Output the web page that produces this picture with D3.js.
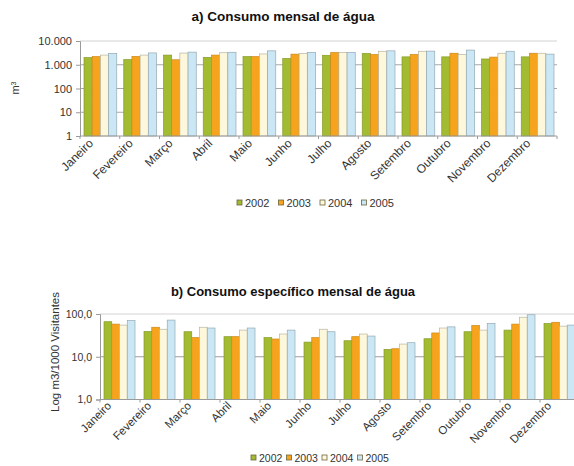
<!DOCTYPE html>
<html>
<head>
<meta charset="utf-8">
<script src="https://cdn.jsdelivr.net/npm/d3@7"></script>
<style>
  html, body { margin: 0; padding: 0; background: #fff; }
  svg { display: block; font-family: "Liberation Sans", Arial, sans-serif; }
</style>
</head>
<body>
<svg id="chart" width="574" height="466"></svg>
<script>
// Months and years
const months = ["Janeiro","Fevereiro","Março","Abril","Maio","Junho","Julho","Agosto","Setembro","Outubro","Novembro","Dezembro"];
const years = ["2002","2003","2004","2005"];

// a) Monthly water consumption (m³)
const consumo2002 = [2000,1650,2550,2050,2200,1850,2500,3000,2150,2150,1750,2150];
const consumo2003 = [2200,2250,1620,2550,2200,2800,3250,2700,2700,3050,2100,3050];
const consumo2004 = [2550,2550,3100,3200,2850,3000,3250,3700,3700,2700,3050,3050];
const consumo2005 = [2950,3150,3400,3350,3850,3300,3250,3850,3750,4150,3700,2800];
const consumoTicks = [1,10,100,1000,10000];

// b) Specific monthly water consumption (m³ per 1000 visitors)
const esp2002 = [66,39,38.5,29.5,28,22,23.7,14.9,26.4,38.5,42,60];
const esp2003 = [58,49,28,29.5,26,28,29.5,15.4,36,54,58,64];
const esp2004 = [55,44,49,42,34,44,34,19.8,47,42,84,52];
const esp2005 = [70,72,47,47,42,38.5,30.5,21.3,50,60,96,55];
const espTicks = [1,10,100];

const colors = ["#a2bb30","#f6a41d","#fdf8dc","#cbe7f5"];

const pt = d3.formatLocale({decimal: ",", thousands: ".", grouping: [3], currency: ["", ""]});

const svg = d3.select("#chart");

function drawChart(cfg) {
  const g = svg.append("g");
  const series = cfg.series;
  const x0 = d3.scaleBand().domain(months).range([cfg.left, cfg.right]).paddingInner(0).paddingOuter(0);
  const x1 = d3.scaleBand().domain(years).range([cfg.barPadL, x0.bandwidth() - cfg.barPadR]);
  const y = d3.scaleLog().domain(cfg.domain).range([cfg.bottom, cfg.top]);

  // gridlines
  g.append("g").selectAll("line").data(cfg.ticks.filter(t => t !== cfg.domain[0]))
    .join("line")
    .attr("x1", cfg.left).attr("x2", Math.min(cfg.right, 574))
    .attr("y1", d => y(d)).attr("y2", d => y(d))
    .attr("stroke", d => d === cfg.domain[1] ? "#d4d4d4" : cfg.gridColor)
    .attr("stroke-width", d => d === cfg.domain[1] ? 1.2 : cfg.gridWidth);

  // bars
  const groups = g.append("g").selectAll("g").data(months).join("g")
    .attr("transform", m => `translate(${x0(m)},0)`);
  groups.selectAll("rect")
    .data((m, i) => years.map((yr, k) => ({yr, k, v: series[k][i]})))
    .join("rect")
    .attr("x", d => x1(d.yr))
    .attr("width", x1.bandwidth())
    .attr("y", d => y(d.v))
    .attr("height", d => cfg.bottom - y(d.v))
    .attr("fill", d => colors[d.k])
    .attr("stroke", d => d3.color(colors[d.k]).darker(d.k >= 2 ? 0.9 : 0.5))
    .attr("stroke-width", 0.7);

  // left axis
  const yAxis = d3.axisLeft(y).tickValues(cfg.ticks).tickFormat(cfg.fmt).tickSize(4).tickPadding(4);
  const ya = g.append("g").attr("transform", `translate(${cfg.left},0)`).call(yAxis);
  ya.select(".domain").attr("stroke", "#9a9a9a");
  ya.selectAll(".tick line").attr("stroke", "#9a9a9a");
  ya.selectAll(".tick text").attr("fill", "#333").style("font-size", cfg.tickFont + "px")
    .style("font-family", "'Liberation Sans', Arial, sans-serif");

  // bottom axis line with ticks at category boundaries
  const xa = g.append("g");
  xa.append("line").attr("x1", cfg.left).attr("x2", Math.min(cfg.right, 574))
    .attr("y1", cfg.bottom).attr("y2", cfg.bottom).attr("stroke", "#9a9a9a");
  xa.selectAll("line.b").data(months.map(m => x0(m)).concat([cfg.right]))
    .join("line").attr("class", "b")
    .attr("x1", d => d).attr("x2", d => d)
    .attr("y1", cfg.bottom).attr("y2", cfg.bottom + 3).attr("stroke", "#9a9a9a");

  // rotated month labels
  xa.selectAll("text").data(months).join("text")
    .attr("transform", m => `translate(${x0(m) + x0.bandwidth() / 2 + cfg.labelDx},${cfg.bottom + cfg.labelDy}) rotate(-45)`)
    .attr("text-anchor", "end")
    .attr("fill", "#333")
    .style("font-size", cfg.labelFont + "px")
    .text(m => m);

  // title
  g.append("text").attr("x", cfg.titleX).attr("y", cfg.titleY)
    .attr("text-anchor", "middle").attr("font-weight", "bold")
    .style("font-size", cfg.titleFont + "px").attr("fill", "#111")
    .text(cfg.title);

  // legend
  const lg = g.append("g").attr("transform", `translate(${cfg.legendX},${cfg.legendY})`);
  const item = lg.selectAll("g").data(years).join("g")
    .attr("transform", (d, i) => `translate(${i * cfg.legendStep},0)`);
  item.append("rect").attr("x", 0).attr("y", -3).attr("width", 5).attr("height", 5)
    .attr("fill", (d, i) => colors[i]).attr("stroke", "#6d6440").attr("stroke-width", 0.8);
  item.append("text").attr("x", 8).attr("y", 0).attr("dy", "0.35em")
    .attr("fill", "#333").style("font-size", cfg.legendFont + "px").text(d => d);

  return g;
}

drawChart({
  series: [consumo2002, consumo2003, consumo2004, consumo2005],
  left: 80, right: 557, top: 41, bottom: 136,
  barPadL: 4, barPadR: 3,
  domain: [1, 10000], ticks: consumoTicks, fmt: pt.format(","),
  gridColor: "#a8a8a8", gridWidth: 1,
  tickFont: 11, labelFont: 12, labelDx: -6, labelDy: 8,
  title: "a) Consumo mensal de água", titleX: 283, titleY: 21, titleFont: 13.5,
  legendX: 237, legendY: 203, legendStep: 41.5, legendFont: 11
});

drawChart({
  series: [esp2002, esp2003, esp2004, esp2005],
  left: 100, right: 580, top: 314, bottom: 399.5,
  barPadL: 4, barPadR: 5,
  domain: [1, 100], ticks: espTicks, fmt: pt.format(",.1f"),
  gridColor: "#9c9c9c", gridWidth: 1.2,
  tickFont: 10.5, labelFont: 11.5, labelDx: -8, labelDy: 7,
  title: "b) Consumo específico mensal de água", titleX: 293, titleY: 296, titleFont: 13,
  legendX: 251, legendY: 458, legendStep: 35.5, legendFont: 10.5
});

// y-axis titles
svg.append("text")
  .attr("transform", "translate(19,88) rotate(-90)")
  .attr("text-anchor", "middle").attr("fill", "#333").style("font-size", "11px")
  .html("m<tspan baseline-shift='super' font-size='7'>3</tspan>");

svg.append("text")
  .attr("transform", "translate(59,352) rotate(-90)")
  .attr("text-anchor", "middle").attr("fill", "#333").style("font-size", "11.5px")
  .text("Log m3/1000 Visitantes");
</script>
</body>
</html>
